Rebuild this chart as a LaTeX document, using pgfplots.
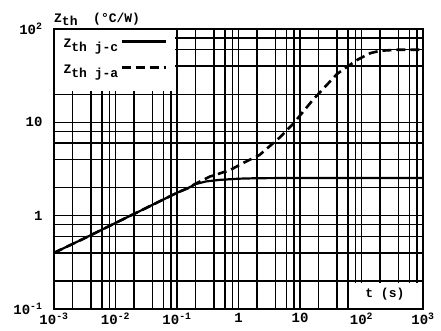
\documentclass[border=0pt]{standalone}
\usepackage{pgfplots}
\pgfplotsset{compat=1.18}
\usepackage{fontspec}
\setmainfont{Liberation Mono}
\newcommand{\Zth}[1]{Z\raisebox{-3.5pt}{th #1}}
\begin{document}
\begin{tikzpicture}
\begin{axis}[
  at={(0,0)}, anchor=south west,
  scale only axis, width=369pt, height=280pt,
  clip=false,
  xmode=log, ymode=log,
  xmin=1e-3, xmax=1e3, ymin=0.1, ymax=100,
  xtick={1e-3,1e-2,1e-1,1,10,100,1000},
  xticklabels={10\textsuperscript{-3},10\textsuperscript{-2},10\textsuperscript{-1},1,10,10\textsuperscript{2},10\textsuperscript{3}},
  ytick={0.1,1,10,100},
  yticklabels={10\textsuperscript{-1},1,10,10\textsuperscript{2}},
  minor xtick={0.002,0.004,0.006,0.008,0.02,0.04,0.06,0.08,0.2,0.4,0.6,0.8,2,4,6,8,20,40,60,80,200,400,600,800},
  minor ytick={0.2,0.4,0.6,0.8,2,4,6,8,20,40,60,80},
  grid=both,
  major grid style={black, line width=1.6pt},
  minor grid style={black, line width=1.4pt},
  major tick length=0pt, minor tick length=0pt,
  axis line style={line width=2pt},
  tick label style={font=\fontsize{14}{14}\selectfont\bfseries},
  xticklabel style={yshift=-0.5pt},
  yticklabel style={xshift=-8pt},
  legend plot pos=right,
  legend cell align=left,
  legend style={draw=none, fill=none, at={(0.012,0.978)}, anchor=north west,
    font=\fontsize{13}{13}\selectfont\bfseries, row sep=12pt,
    /tikz/every even column/.append style={column sep=3pt}},
  legend image code/.code={\draw[#1] (0pt,3pt) -- (44pt,3pt);},
]
\fill[white] (axis cs:1e-3,21.5) rectangle (axis cs:0.093,100);
\fill[white] (axis cs:64,0.1) rectangle (axis cs:1000,0.188);

\addplot[black, line width=2.2pt] coordinates {
(0.001,0.40) (0.003,0.565) (0.01,0.835) (0.03,1.19) (0.1,1.76) (0.15,1.97)
(0.2,2.18) (0.3,2.33) (0.5,2.42) (1,2.49) (2,2.52) (5,2.53) (1000,2.53)
};
\addlegendentry{\Zth{j-c}}

\addplot[black, line width=2.6pt, dash pattern=on 9pt off 5pt] coordinates {
(0.001,0.40) (0.003,0.565) (0.01,0.835) (0.03,1.19) (0.1,1.76) (0.15,1.97)
(0.2,2.2) (0.34,2.62) (0.73,3.08) (1.18,3.66) (2.2,4.47) (4.7,6.9)
(7.7,9.6) (16.3,17.5) (40,33) (84.5,46.6) (138,55) (200,58.5) (400,60) (1000,60)
};
\addlegendentry{\Zth{j-a}}

\draw[line width=2pt] (rel axis cs:0,0) rectangle (rel axis cs:1,1);
\node[font=\fontsize{13}{13}\selectfont\bfseries] at (axis cs:240,0.145) {t (s)};
\node[anchor=base west, font=\fontsize{13}{13}\selectfont\bfseries, inner sep=0pt]
  at ([yshift=7pt]rel axis cs:0,1) {\Zth{} (°C/W)};
\end{axis}
\pgfresetboundingbox
\useasboundingbox (-54pt,-21pt) rectangle (387pt,309pt);
\end{tikzpicture}
\end{document}
